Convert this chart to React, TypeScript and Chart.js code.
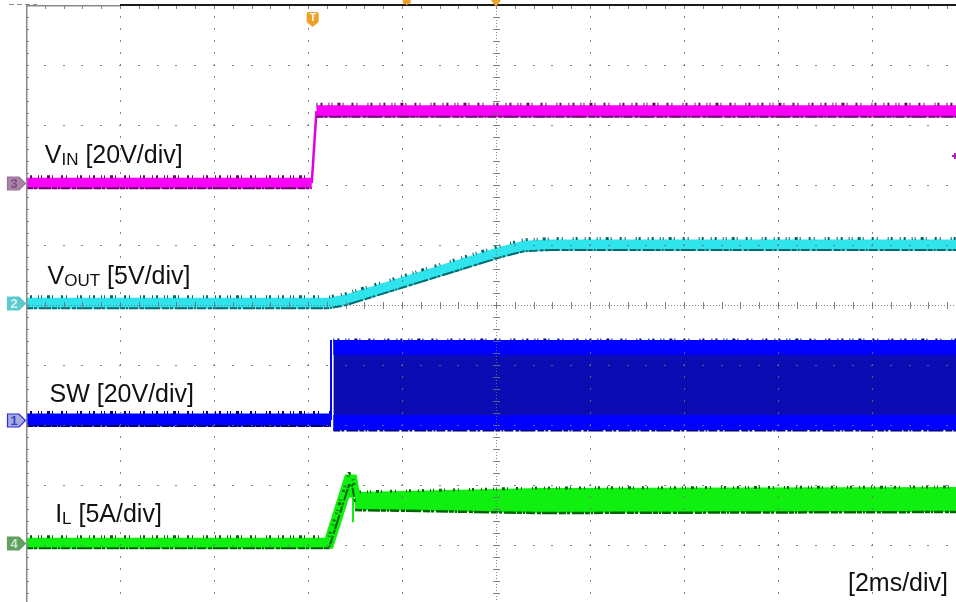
import React, { useEffect, useRef } from 'react';
import { Chart, registerables } from 'chart.js';
Chart.register(...registerables);

// Screen in divisions: 10 horizontal (2 ms/div), 10 vertical; visible part cropped
const X_MAX = 9.894;
const Y_MIN = 0.05;
const Y_MAX = 10;
const TRIGGER_T = 3.05;

// CH3 VIN (20 V/div) trace, positions in divisions
const vinT = [0, 3.04, 3.09, 9.95];
const vinV = [7.03, 7.03, 8.23, 8.23];

// CH2 VOUT (5 V/div)
const voutT = [0, 3.23, 3.4, 5.05, 5.3, 5.6, 9.95];
const voutV = [5.03, 5.03, 5.08, 5.88, 5.98, 6.0, 6.0];

// CH1 SW (20 V/div)
const swLowT = [0, 3.245];
const swLowV = [3.083, 3.083];
const swEdgeT = [3.245, 3.245];
const swEdgeV = [3.083, 4.417];
const swBandT = [3.27, 9.95];
const swTopV = [4.417, 4.417];
const swBotV = [2.917, 2.917];
const swUpperV = [4.29, 4.29];
const swLowerV = [3.04, 3.04];

// CH4 IL (5 A/div)
const ilT = [0, 3.223, 3.436, 3.468, 3.5];
const ilV = [1.03, 1.03, 2.083, 2.083, 1.8];
const ilSpikeT = [3.479, 3.479];
const ilSpikeV = [1.85, 1.38];
const ilBandT = [3.5, 5.47, 9.95];
const ilTopV = [1.883, 1.95, 1.967];
const ilBotV = [1.583, 1.533, 1.55];

const labels = [
  { main: 'V', sub: 'IN', rest: ' [20V/div]', x: 0.2, y: 7.37 },
  { main: 'V', sub: 'OUT', rest: ' [5V/div]', x: 0.23, y: 5.35 },
  { main: 'SW [20V/div]', sub: '', rest: '', x: 0.25, y: 3.38 },
  { main: 'I', sub: 'L', rest: ' [5A/div]', x: 0.31, y: 1.38 },
];
const timebaseLabel = '[2ms/div]';

const pts = (t: number[], v: number[]) => t.map((x, i) => ({ x, y: v[i] }));

const FONT = '"Liberation Sans", Arial, sans-serif';

const scopePlugin = {
  id: 'scope',
  afterDatasetsDraw(chart: any) {
    const { ctx, chartArea: ca, scales } = chart;
    const xs = scales.x;
    const ys = scales.y;
    ctx.save();
    ctx.beginPath();
    ctx.rect(ca.left, ca.top, ca.right - ca.left, ca.bottom - ca.top);
    ctx.clip();
    // noisy edges of thick traces
    chart.data.datasets.forEach((ds: any, i: number) => {
      if (!ds.edges) return;
      const meta = chart.getDatasetMeta(i);
      const p = meta.data;
      ds.edges.forEach((e: any) => {
        ctx.strokeStyle = e.color;
        ctx.lineWidth = e.width;
        ctx.setLineDash(e.dash);
        ctx.lineCap = 'butt';
        ctx.beginPath();
        p.forEach((pt: any, j: number) => {
          if (j === 0) ctx.moveTo(pt.x, pt.y + e.off);
          else ctx.lineTo(pt.x, pt.y + e.off);
        });
        ctx.stroke();
      });
    });
    ctx.setLineDash([]);
    // graticule
    ctx.fillStyle = 'rgba(110,110,110,0.85)';
    const minorsX: number[] = [];
    for (let m = 0; m <= 50; m++) minorsX.push(m * 0.2);
    for (let k = 1; k <= 9; k++) {
      if (k === 5) continue;
      const px = Math.round(xs.getPixelForValue(k));
      minorsX.forEach((v) => {
        const py = Math.round(ys.getPixelForValue(v));
        if (py > ca.top && py < ca.bottom) ctx.fillRect(px, py - 1, 1, 2);
      });
      const py = Math.round(ys.getPixelForValue(k));
      minorsX.forEach((v) => {
        const qx = Math.round(xs.getPixelForValue(v));
        if (qx > ca.left && qx < ca.right) ctx.fillRect(qx - 1, py, 2, 1);
      });
    }
    // centre lines
    const cx = Math.round(xs.getPixelForValue(5));
    const cy = Math.round(ys.getPixelForValue(5));
    for (let py = ca.top; py < ca.bottom; py += 3) ctx.fillRect(cx, py, 1, 1);
    for (let px = ca.left; px < ca.right; px += 3) ctx.fillRect(px, cy, 1, 1);
    minorsX.forEach((v) => {
      const py = Math.round(ys.getPixelForValue(v));
      ctx.fillRect(cx - 3, py, 7, 1);
      const px = Math.round(xs.getPixelForValue(v));
      ctx.fillRect(px, cy - 3, 1, 7);
      // border ticks
      ctx.fillRect(px, ca.top, 1, 4);
      ctx.fillRect(ca.left, py, 3, 1);
    });
    ctx.restore();

    // borders
    ctx.save();
    ctx.fillStyle = '#8a8a8a';
    ctx.fillRect(ca.left, ca.top, 1.5, ca.bottom - ca.top);
    ctx.fillRect(ca.left, ca.top, xs.getPixelForValue(1) - ca.left, 1.5);
    ctx.fillStyle = '#1a1a1a';
    ctx.fillRect(xs.getPixelForValue(1), ca.top - 1, ca.right - xs.getPixelForValue(1), 2);
    ctx.strokeStyle = '#888';
    ctx.lineWidth = 1;
    ctx.setLineDash([5, 3]);
    ctx.beginPath();
    ctx.moveTo(9, 4.5);
    ctx.lineTo(37, 4.5);
    ctx.stroke();
    ctx.setLineDash([]);

    // channel tags
    const tag = (v: number, fill: string, stroke: string, txt: string, tcol: string) => {
      const y = Math.round(ys.getPixelForValue(v)) + 0.5;
      ctx.beginPath();
      ctx.moveTo(7.5, y - 6.5);
      ctx.lineTo(19, y - 6.5);
      ctx.lineTo(25.5, y);
      ctx.lineTo(19, y + 6.5);
      ctx.lineTo(7.5, y + 6.5);
      ctx.closePath();
      ctx.fillStyle = fill;
      ctx.fill();
      ctx.strokeStyle = stroke;
      ctx.lineWidth = 1.2;
      ctx.stroke();
      ctx.fillStyle = tcol;
      ctx.font = 'bold 13px ' + FONT;
      ctx.textAlign = 'center';
      ctx.textBaseline = 'middle';
      ctx.fillText(txt, 14, y + 1);
    };
    tag(vinV[0], '#a884a8', '#9a6e9a', '3', '#7e4c7e');
    tag(voutV[0], '#5ec8d0', '#5ec8d0', '2', '#d4f4f6');
    tag(swLowV[0], '#a8acdc', '#2a2ae0', '1', '#3a3ad0');
    tag(ilV[0], '#62a062', '#62a062', '4', '#c8e8c8');

    // trigger marker
    const tx = xs.getPixelForValue(TRIGGER_T);
    ctx.fillStyle = '#f0a028';
    ctx.beginPath();
    ctx.moveTo(tx - 6, 14);
    ctx.quadraticCurveTo(tx - 6, 12, tx - 4, 12);
    ctx.lineTo(tx + 4, 12);
    ctx.quadraticCurveTo(tx + 6, 12, tx + 6, 14);
    ctx.lineTo(tx + 6, 22);
    ctx.lineTo(tx, 27);
    ctx.lineTo(tx - 6, 22);
    ctx.closePath();
    ctx.fill();
    ctx.fillStyle = '#fff';
    ctx.font = 'bold 10px ' + FONT;
    ctx.textAlign = 'center';
    ctx.textBaseline = 'middle';
    ctx.fillText('T', tx, 18);
    // top position markers
    const c5 = xs.getPixelForValue(5);
    ctx.fillStyle = '#f0a028';
    ctx.beginPath();
    ctx.moveTo(c5 - 5, 0);
    ctx.lineTo(c5 + 5, 0);
    ctx.lineTo(c5, 7);
    ctx.closePath();
    ctx.fill();
    const c4 = xs.getPixelForValue(4.05);
    ctx.beginPath();
    ctx.moveTo(c4 - 4, 0);
    ctx.lineTo(c4 + 4, 0);
    ctx.lineTo(c4 + 4, 3);
    ctx.lineTo(c4, 5);
    ctx.lineTo(c4 - 4, 3);
    ctx.closePath();
    ctx.fill();
    // right-edge marker
    const ry = Math.round(ys.getPixelForValue(7.5));
    ctx.fillStyle = '#b020b0';
    ctx.fillRect(952, ry, 4, 2);
    ctx.fillRect(954, ry - 2, 2, 6);

    // labels
    ctx.fillStyle = '#111';
    ctx.textAlign = 'left';
    ctx.textBaseline = 'alphabetic';
    labels.forEach((l) => {
      let x = xs.getPixelForValue(l.x);
      const y = ys.getPixelForValue(l.y);
      ctx.font = '25px ' + FONT;
      ctx.fillText(l.main, x, y);
      x += ctx.measureText(l.main).width;
      if (l.sub) {
        ctx.font = '17px ' + FONT;
        ctx.fillText(l.sub, x, y + 2);
        x += ctx.measureText(l.sub).width;
      }
      if (l.rest) {
        ctx.font = '25px ' + FONT;
        ctx.fillText(l.rest, x, y);
      }
    });
    ctx.font = '25px ' + FONT;
    ctx.textAlign = 'right';
    ctx.fillText(timebaseLabel, 948, ys.getPixelForValue(Y_MIN) - 11);
    ctx.restore();
  },
};

const topNoise = [1, 3, 2, 6, 1, 2, 1, 5, 3, 2, 1, 8, 2, 3, 1, 10, 1, 2, 2, 7];
const botNoise = [7, 1, 3, 2, 12, 1, 5, 1, 2, 1, 9, 2, 4, 1, 15, 2];

export default function App() {
  const ref = useRef<HTMLCanvasElement | null>(null);
  useEffect(() => {
    document.body.style.margin = '0';
    if (!ref.current) return;
    const line = (data: any, color: string, width: number, extra: any = {}) => ({
      data,
      borderColor: color,
      backgroundColor: color,
      borderWidth: width,
      pointRadius: 0,
      tension: 0,
      fill: false,
      borderCapStyle: 'butt',
      borderJoinStyle: 'miter',
      ...extra,
    });
    const edges = (w: number, dark: string) => [
      { off: -w / 2 - 1, width: 3, color: dark, dash: topNoise },
      { off: w / 2 - 0.5, width: 2, color: dark, dash: botNoise },
    ];
    const chart = new Chart(ref.current, {
      type: 'line',
      data: {
        datasets: [
          line(pts(vinT.slice(0, 2), vinV.slice(0, 2)), '#fa00fa', 11, { edges: edges(11, '#700070') }),
          line(pts(vinT.slice(1, 3), vinV.slice(1, 3)), '#e000e0', 2.5),
          line(pts(vinT.slice(2), vinV.slice(2)), '#fa00fa', 12, { edges: edges(12, '#700070') }),
          line(pts(voutT, voutV), '#30e4ee', 11, { edges: edges(11, '#006a70') }),
          line(pts(swLowT, swLowV), '#0000ff', 13, { edges: edges(13, '#000070') }),
          line(pts(swEdgeT, swEdgeV), '#0000ff', 2),
          line(pts(swBandT, swTopV), '#000080', 3, { borderDash: topNoise, order: 2 }),
          line(pts(swBandT, swBotV), '#000080', 3, { borderDash: botNoise, fill: '-1', backgroundColor: '#0c0cb4', order: 2 }),
          line(pts(swBandT, swUpperV), '#0000ff', 15, { order: -1 }),
          line(pts(swBandT, swLowerV), '#0000ff', 15, { order: -1 }),
          line(pts(ilT, ilV), '#10f010', 11, { edges: edges(11, '#006400') }),
          line(pts(ilSpikeT, ilSpikeV), '#10f010', 2),
          line(pts(ilBandT, ilTopV), '#006400', 3, { borderDash: topNoise }),
          line(pts(ilBandT, ilBotV), '#006400', 2.5, { borderDash: botNoise, fill: '-1', backgroundColor: '#10f010' }),
        ],
      },
      options: {
        responsive: false,
        maintainAspectRatio: false,
        animation: false,
        events: [],
        layout: { padding: { left: 26, top: 5, right: 0, bottom: 0 } },
        plugins: {
          legend: { display: false },
          tooltip: { enabled: false },
          title: { display: false },
        },
        scales: {
          x: { type: 'linear', min: 0, max: X_MAX, display: false },
          y: { type: 'linear', min: Y_MIN, max: Y_MAX, display: false },
        },
      } as any,
      plugins: [scopePlugin],
    } as any);
    return () => chart.destroy();
  }, []);
  return (
    <div style={{ position: 'absolute', left: 0, top: 0, width: 956, height: 602, background: '#fff' }}>
      <canvas ref={ref} width={956} height={602} style={{ width: 956, height: 602, display: 'block' }} />
    </div>
  );
}
